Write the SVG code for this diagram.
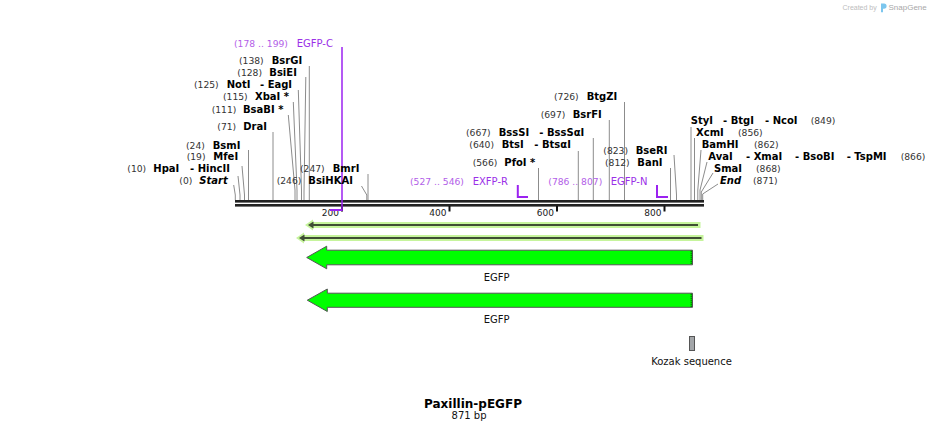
<svg xmlns="http://www.w3.org/2000/svg" width="939" height="432" viewBox="0 0 939 432">
<style>
text{font-family:"DejaVu Sans",Verdana,sans-serif}
.num{font-size:9.2px;fill:#333}
.enz{font-size:10px;font-weight:bold;fill:#000}
.it{font-style:italic}
.pnum{font-size:9.2px;fill:#b25ee8}
.pname{font-size:10px;fill:#9b30e8}
.lbl{font-size:10px;fill:#111}
.title{font-size:12px;font-weight:bold;fill:#000}
.cut{fill:none;stroke:#8c8c8c;stroke-width:1}
.prim{fill:none;stroke:#9b22f0;stroke-width:2}
.bb{fill:#222}
.tick{stroke:#111;stroke-width:2}
.tl{font-size:9px;fill:#222}
.feat{fill:#0f0;stroke:#555;stroke-width:1}
</style>
<rect width="939" height="432" fill="#fff"/>

<g id="logo">
<text x="842.5" y="9.5" style="font-family:'Liberation Sans',Arial,sans-serif;font-size:7px;fill:#bdbdbd">Created by</text>
<path d="M881,3.5 h3 a2.6,2.6 0 0 1 0,5.2 h-1 v3.6 h-2 z" fill="#7cc6ee"/>
<text x="888.5" y="10" style="font-family:'Liberation Sans',Arial,sans-serif;font-size:8px;fill:#a8a8a8">SnapGene</text>
</g>

<g id="backbone">
<rect class="bb" x="235" y="200" width="469" height="2.6"/>
<rect class="bb" x="235" y="204" width="469" height="2.6"/>
<line class="tick" x1="342" y1="206" x2="342" y2="211.5"/>
<line class="tick" x1="449.5" y1="206" x2="449.5" y2="211.5"/>
<line class="tick" x1="557" y1="206" x2="557" y2="211.5"/>
<line class="tick" x1="664.5" y1="206" x2="664.5" y2="211.5"/>
<text class="tl" x="339" y="215.5" text-anchor="end">200</text>
<text class="tl" x="446.5" y="215.5" text-anchor="end">400</text>
<text class="tl" x="554" y="215.5" text-anchor="end">600</text>
<text class="tl" x="661.5" y="215.5" text-anchor="end">800</text>
</g>

<g id="connectors">
<polyline class="cut" points="309.3,66 309.3,200"/>
<polyline class="cut" points="305.8,77 304,192 304,200"/>
<polyline class="cut" points="298.3,90 301.5,190 301.5,200"/>
<polyline class="cut" points="293.3,102 297,190 297,200"/>
<polyline class="cut" points="288.3,115 295,190 295,200"/>
<polyline class="cut" points="273,132 273,200"/>
<polyline class="cut" points="248.5,150 248.5,200"/>
<polyline class="cut" points="242,166 244.5,195 244.5,200"/>
<polyline class="cut" points="238,176 240,195 240,200"/>
<polyline class="cut" points="233.7,185 235.3,195 235.3,200"/>
<polyline class="cut" points="368,174 368,200"/>
<polyline class="cut" points="361.5,186 366.8,195 366.8,200"/>
<polyline class="cut" points="538.5,168 538.5,200"/>
<polyline class="cut" points="578.3,151 578.3,200"/>
<polyline class="cut" points="593.3,138 593.3,200"/>
<polyline class="cut" points="609.3,120 609.3,200"/>
<polyline class="cut" points="624.5,102 624.5,200"/>
<polyline class="cut" points="674,155 676.5,195 676.5,200"/>
<polyline class="cut" points="670.5,168 670.5,200"/>
<polyline class="cut" points="691,127 691,200"/>
<polyline class="cut" points="694.5,138 694.5,200"/>
<polyline class="cut" points="701,150 697.8,190 697.8,200"/>
<polyline class="cut" points="707,162 700,190 700,200"/>
<polyline class="cut" points="713,173 701.3,192 701.3,200"/>
<polyline class="cut" points="718,184 702.7,194 702.7,200"/>
</g>

<g id="primer-EGFP-C">
<line x1="342" y1="47" x2="342" y2="211" stroke="#9b22f0" stroke-width="1.5"/>
<polyline class="prim" points="330,210 342,210"/>
<text class="pnum" x="234" y="46.8">(178 .. 199)</text>
<text class="pname" x="296.7" y="46.8">EGFP-C</text>
</g>
<g id="primer-EXFP-R">
<polyline class="prim" points="517.8,185 517.8,197 528,197"/>
<text class="pnum" x="410" y="184.5">(527 .. 546)</text>
<text class="pname" x="472.7" y="184.5">EXFP-R</text>
</g>
<g id="primer-EGFP-N">
<polyline class="prim" points="657,185 657,197 668,197"/>
<text class="pnum" x="548.3" y="184.5">(786 .. 807)</text>
<text class="pname" x="610.7" y="184.5">EGFP-N</text>
</g>

<g id="site-BsrGI"><text class="num" x="239" y="64.2">(138)</text><text class="enz" x="271.7" y="64.2">BsrGI</text></g>
<g id="site-BsiEI"><text class="num" x="237.3" y="75.8">(128)</text><text class="enz" x="269.3" y="75.8">BsiEI</text></g>
<g id="site-NotI"><text class="num" x="194" y="87.5">(125)</text><text class="enz" x="226.7" y="87.5">NotI</text><text class="enz" x="260" y="87.5">- EagI</text></g>
<g id="site-XbaI"><text class="num" x="223" y="100.2">(115)</text><text class="enz" x="255" y="100.2">XbaI *</text></g>
<g id="site-BsaBI"><text class="num" x="211.7" y="112.5">(111)</text><text class="enz" x="243" y="112.5">BsaBI *</text></g>
<g id="site-DraI"><text class="num" x="217.3" y="130.2">(71)</text><text class="enz" x="243.3" y="130.2">DraI</text></g>
<g id="site-BsmI"><text class="num" x="186" y="148.5">(24)</text><text class="enz" x="212.7" y="148.5">BsmI</text></g>
<g id="site-MfeI"><text class="num" x="186.7" y="160.2">(19)</text><text class="enz" x="213.3" y="160.2">MfeI</text></g>
<g id="site-HpaI"><text class="num" x="127.3" y="171.8">(10)</text><text class="enz" x="153.3" y="171.8">HpaI</text><text class="enz" x="190" y="171.8">- HincII</text></g>
<g id="site-Start"><text class="num" x="179.3" y="184.2">(0)</text><text class="enz it" x="199.3" y="184.2">Start</text></g>
<g id="site-BmrI"><text class="num" x="300" y="171.8">(247)</text><text class="enz" x="332.7" y="171.8">BmrI</text></g>
<g id="site-BsiHKAI"><text class="num" x="276.7" y="184.2">(246)</text><text class="enz" x="308.3" y="184.2">BsiHKAI</text></g>

<g id="site-BtgZI"><text class="num" x="554" y="100.2">(726)</text><text class="enz" x="586.7" y="100.2">BtgZI</text></g>
<g id="site-BsrFI"><text class="num" x="540.7" y="117.8">(697)</text><text class="enz" x="572.7" y="117.8">BsrFI</text></g>
<g id="site-BssSI"><text class="num" x="466" y="135.8">(667)</text><text class="enz" x="498.7" y="135.8">BssSI</text><text class="enz" x="539.3" y="135.8">- BssSαI</text></g>
<g id="site-BtsI"><text class="num" x="469.3" y="147.8">(640)</text><text class="enz" x="501.7" y="147.8">BtsI</text><text class="enz" x="534.3" y="147.8">- BtsαI</text></g>
<g id="site-PfoI"><text class="num" x="472.7" y="165.8">(566)</text><text class="enz" x="504.3" y="165.8">PfoI *</text></g>
<g id="site-BseRI"><text class="num" x="603.3" y="153.5">(823)</text><text class="enz" x="635.7" y="153.5">BseRI</text></g>
<g id="site-BanI"><text class="num" x="605" y="166.2">(812)</text><text class="enz" x="637.3" y="166.2">BanI</text></g>

<g id="site-StyI"><text class="enz" x="690.7" y="123.5">StyI</text><text class="enz" x="723" y="123.5">- BtgI</text><text class="enz" x="765" y="123.5">- NcoI</text><text class="num" x="810.7" y="123.5">(849)</text></g>
<g id="site-XcmI"><text class="enz" x="696" y="136.2">XcmI</text><text class="num" x="738" y="136.2">(856)</text></g>
<g id="site-BamHI"><text class="enz" x="701.7" y="147.8">BamHI</text><text class="num" x="754" y="147.8">(862)</text></g>
<g id="site-AvaI"><text class="enz" x="708.3" y="160.2">AvaI</text><text class="enz" x="746" y="160.2">- XmaI</text><text class="enz" x="795" y="160.2">- BsoBI</text><text class="enz" x="846.7" y="160.2">- TspMI</text><text class="num" x="900.7" y="160.2">(866)</text></g>
<g id="site-SmaI"><text class="enz" x="714" y="171.8">SmaI</text><text class="num" x="756" y="171.8">(868)</text></g>
<g id="site-End"><text class="enz it" x="720" y="183.5">End</text><text class="num" x="753" y="183.5">(871)</text></g>

<g id="orf-1">
<line x1="311" y1="225" x2="700.5" y2="225" stroke="#c6f49c" stroke-width="6"/>
<polygon points="305,225 313,219.5 313,230.5" fill="#c6f49c"/>
<line x1="312" y1="225" x2="698" y2="225" stroke="#3f4d34" stroke-width="2"/>
<polygon points="308,225 313.5,221.5 313.5,228.5" fill="#3f4d34"/>
</g>
<g id="orf-2">
<line x1="302" y1="238" x2="703.5" y2="238" stroke="#c6f49c" stroke-width="6"/>
<polygon points="296,238 304,232.5 304,243.5" fill="#c6f49c"/>
<line x1="303" y1="238" x2="701.5" y2="238" stroke="#3f4d34" stroke-width="2"/>
<polygon points="299,238 304.5,234.5 304.5,241.5" fill="#3f4d34"/>
</g>

<g id="feature-EGFP-1">
<polygon class="feat" points="306.7,257.5 326.7,246.2 326.7,250.2 692.5,250.2 692.5,264.8 326.7,264.8 326.7,268.8"/>
<line x1="691.2" y1="250.7" x2="691.2" y2="264.3" stroke="#000" stroke-width="1" stroke-dasharray="1,1"/>
<text class="lbl" x="496.7" y="280.5" text-anchor="middle">EGFP</text>
</g>
<g id="feature-EGFP-2">
<polygon class="feat" points="307.3,300.2 327.3,289 327.3,293.2 692.5,293.2 692.5,307.3 327.3,307.3 327.3,311.5"/>
<line x1="691.2" y1="293.7" x2="691.2" y2="306.8" stroke="#000" stroke-width="1" stroke-dasharray="1,1"/>
<text class="lbl" x="496.7" y="323" text-anchor="middle">EGFP</text>
</g>
<g id="feature-Kozak">
<rect x="689.5" y="336.5" width="5" height="14" fill="#a3a6a9" stroke="#555" stroke-width="1"/>
<text class="lbl" x="691.5" y="364.5" text-anchor="middle">Kozak sequence</text>
</g>

<g id="title">
<text class="title" x="473" y="408.3" text-anchor="middle">Paxillin-pEGFP</text>
<text class="lbl" x="469" y="418.5" text-anchor="middle">871 bp</text>
</g>
</svg>
